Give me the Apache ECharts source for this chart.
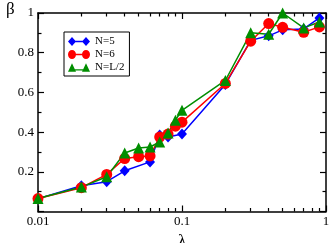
<!DOCTYPE html>
<html>
<head>
<meta charset="utf-8">
<script src="https://cdn.jsdelivr.net/npm/echarts@6/dist/echarts.min.js"></script>
<style>html,body{margin:0;padding:0;background:#fff}#c{width:329px;height:243px}</style>
</head>
<body>
<div id="c"></div>
<script>
const lambdaN5 = [0.01, 0.02, 0.03, 0.04, 0.06, 0.07, 0.08, 0.1, 0.2, 0.3, 0.4, 0.5, 0.7, 0.9];
const betaN5   = [0.065, 0.13, 0.15, 0.205, 0.25, 0.385, 0.375, 0.39, 0.64, 0.862, 0.885, 0.915, 0.92, 0.975];
const lambdaN6 = [0.01, 0.02, 0.03, 0.04, 0.05, 0.06, 0.07, 0.08, 0.09, 0.1, 0.2, 0.3, 0.4, 0.5, 0.7, 0.9];
const betaN6   = [0.065, 0.12, 0.187, 0.267, 0.276, 0.28, 0.375, 0.39, 0.43, 0.45, 0.645, 0.858, 0.947, 0.928, 0.903, 0.93];
const lambdaNL = [0.01, 0.02, 0.03, 0.04, 0.05, 0.06, 0.07, 0.08, 0.09, 0.1, 0.2, 0.3, 0.4, 0.5, 0.7, 0.9];
const betaNL   = [0.065, 0.123, 0.175, 0.295, 0.32, 0.325, 0.35, 0.395, 0.46, 0.51, 0.66, 0.9, 0.893, 1.0, 0.925, 0.955];
const seriesNames = ['N=5', 'N=6', 'N=L/2'];
const xMajorTicks = [0.01, 0.1, 1];
const xMinorTicks = [0.02, 0.03, 0.04, 0.05, 0.06, 0.07, 0.08, 0.09, 0.2, 0.3, 0.4, 0.5, 0.6, 0.7, 0.8, 0.9];

const FONT = '"Liberation Serif", "DejaVu Serif", serif';
const pairs = (xs, ys) => xs.map((x, i) => [x, ys[i]]);

const iconDiamond = 'path://M0,45L40,0L80,45L40,90ZM40,38L180,38L180,52L40,52ZM140,45L180,0L220,45L180,90Z';
const iconCircle = 'path://M0,45A40,45 0 1 1 80,45A40,45 0 1 1 0,45ZM40,38L180,38L180,52L40,52ZM140,45A40,45 0 1 1 220,45A40,45 0 1 1 140,45Z';
const iconTri = 'path://M0,88L40,2L80,88ZM40,62L180,62L180,76L40,76ZM140,88L180,2L220,88Z';

const axisLine = { show: true, lineStyle: { color: '#000', width: 1.5 } };
function xAxisDef(pos, ticks, len, showLine, showLabel) {
  return {
    type: 'log', logBase: 10, min: 0.01, max: 1, position: pos,
    axisLine: Object.assign({}, axisLine, { show: showLine }),
    axisTick: { show: true, inside: true, length: len, customValues: ticks, lineStyle: { color: '#000', width: 1.2 } },
    axisLabel: showLabel ? { show: true, customValues: xMajorTicks, margin: 4, color: '#000', fontFamily: FONT, fontSize: 13, formatter: v => String(v) } : { show: false },
    splitLine: { show: false }, minorTick: { show: false }
  };
}
function yAxisDef(pos, showLabel) {
  return {
    type: 'value', min: 0, max: 1, interval: 0.2, position: pos,
    axisLine: axisLine,
    axisTick: { show: true, inside: true, length: 6, lineStyle: { color: '#000', width: 1.2 } },
    minorTick: { show: true, splitNumber: 2, length: 3.5, lineStyle: { color: '#000', width: 1.2 } },
    axisLabel: showLabel ? { show: true, margin: 4, color: '#000', fontFamily: FONT, fontSize: 13, formatter: v => (v === 0 ? '' : String(+v.toFixed(1))) } : { show: false },
    splitLine: { show: false }, minorSplitLine: { show: false }
  };
}

const chart = echarts.init(document.getElementById('c'), null, { renderer: 'canvas' });
chart.setOption({
  animation: false,
  backgroundColor: '#fff',
  grid: { left: 38, right: 3, top: 13, bottom: 31.5, containLabel: false, outerBoundsMode: 'none' },
  xAxis: [
    Object.assign(xAxisDef('bottom', xMajorTicks, 6, true, true), {
      name: 'λ', nameLocation: 'middle', nameGap: 16,
      nameTextStyle: { fontFamily: FONT, fontSize: 17, color: '#000' }
    }),
    xAxisDef('bottom', xMinorTicks, 3.5, false, false),
    xAxisDef('top', xMajorTicks, 6, true, false),
    xAxisDef('top', xMinorTicks, 3.5, false, false)
  ],
  yAxis: [yAxisDef('left', true), yAxisDef('right', false)],
  graphic: [{
    type: 'text', left: 6, top: 1,
    style: { text: 'β', fontFamily: FONT, fontSize: 17, fill: '#000' }
  }],
  legend: {
    orient: 'vertical', left: 64, top: 32,
    padding: [4, 5, 3, 4], itemGap: 2, itemWidth: 22, itemHeight: 9,
    borderColor: '#000', borderWidth: 1, backgroundColor: '#fff',
    textStyle: { fontFamily: FONT, fontSize: 11, color: '#000' },
    itemStyle: { borderWidth: 0 },
    data: [
      { name: seriesNames[0], icon: iconDiamond },
      { name: seriesNames[1], icon: iconCircle },
      { name: seriesNames[2], icon: iconTri }
    ]
  },
  series: [
    { name: seriesNames[0], type: 'line', data: pairs(lambdaN5, betaN5), color: '#0000ff',
      symbol: 'diamond', symbolSize: [10, 11], lineStyle: { width: 1.5 }, itemStyle: { borderWidth: 0 } },
    { name: seriesNames[1], type: 'line', data: pairs(lambdaN6, betaN6), color: '#ff0000',
      symbol: 'circle', symbolSize: 11, lineStyle: { width: 1.5 }, itemStyle: { borderWidth: 0 } },
    { name: seriesNames[2], type: 'line', data: pairs(lambdaNL, betaNL), color: '#008e00',
      symbol: 'triangle', symbolSize: 11, lineStyle: { width: 1.5 }, itemStyle: { borderWidth: 0 } }
  ]
});
</script>
</body>
</html>
